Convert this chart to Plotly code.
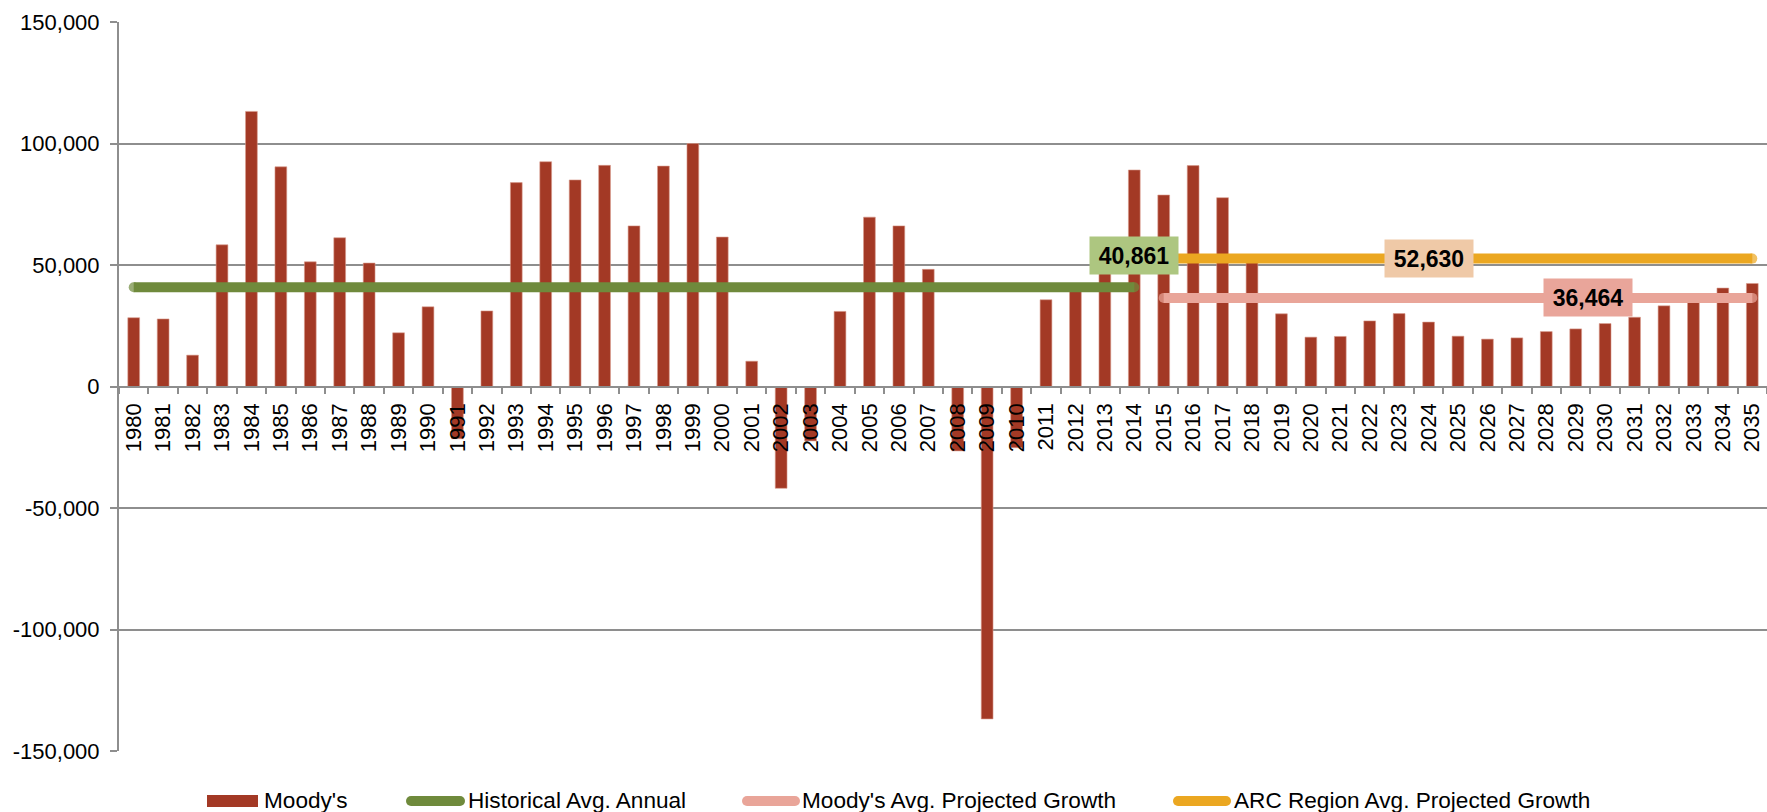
import plotly.graph_objects as go

# ---- data -------------------------------------------------------------
years = [str(y) for y in range(1980, 2036)]

moodys = [
    28300, 27800, 12900, 58300, 113200, 90400, 51300, 61200, 50800, 22100,   # 1980-1989
    32800, -21500, 31100, 83900, 92500, 85000, 91000, 66100, 90700, 100000,  # 1990-1999
    61500, 10400, -41900, -22400, 30900, 69700, 66100, 48200, -26500, -136800,  # 2000-2009
    -25200, 35700, 42000, 60500, 89100, 78800, 90900, 77700, 51000, 29900,   # 2010-2019
    20300, 20600, 27000, 30000, 26500, 20700, 19500, 20000, 22600, 23700,    # 2020-2029
    25900, 28500, 33200, 36000, 40500, 42400,                                # 2030-2035
]

hist_years = years[:years.index("2014") + 1]
proj_years = years[years.index("2015"):]

hist_avg = 40861          # Historical Avg. Annual (1980-2014)
moodys_proj_avg = 36464   # Moody's Avg. Projected Growth (2015-2035)
arc_proj_avg = 52630      # ARC Region Avg. Projected Growth (2015-2035)

y_tickvals = [150000, 100000, 50000, 0, -50000, -100000, -150000]
y_ticktext = ["150,000", "100,000", "50,000", "0", "-50,000", "-100,000", "-150,000"]

series_names = ["Moody's", "Historical Avg. Annual",
                "Moody's Avg. Projected Growth", "ARC Region Avg. Projected Growth"]

# ---- styling ----------------------------------------------------------
FONT = "Liberation Sans, Arial, sans-serif"
BAR = "#a33925"
GREEN = "#6f8a3c"
PINK = "#e9a599"
ORANGE = "#eba721"
GRID = "#8e8e8e"

W, H = 1767, 812
ML, MR, MT, MB = 119, 0, 22, 61
PW, PH = W - ML - MR, H - MT - MB


def px_x(x):
    return (x - ML) / PW


def px_y(y):
    return (H - MB - y) / PH


def flat_line(xs, value, color, name):
    n = len(xs)
    sizes = [10] + [0] * (n - 2) + [10]
    return go.Scatter(
        x=xs, y=[value] * n, mode="lines+markers", name=name,
        line=dict(color=color, width=10),
        marker=dict(color=color, size=sizes, line=dict(width=0)),
        showlegend=False, hoverinfo="skip",
    )


fig = go.Figure()
fig.add_trace(go.Bar(x=years, y=moodys, name=series_names[0], marker_color=BAR,
                     marker_line=dict(width=0.6, color="#d99a8c"), showlegend=False))
fig.add_trace(flat_line(hist_years, hist_avg, GREEN, series_names[1]))
fig.add_trace(flat_line(proj_years, moodys_proj_avg, PINK, series_names[2]))
fig.add_trace(flat_line(proj_years, arc_proj_avg, ORANGE, series_names[3]))

# value labels for the average lines (x given as category index)
label_font = dict(family=FONT, size=23, color="#000000")
label_specs = [
    (years.index("2014"), 0, hist_avg, 32, "#adc680"),
    (years.index("2024"), 0, arc_proj_avg, 0, "#efc9a7"),
    (years.index("2029"), 12, moodys_proj_avg, 0, "#e9a59a"),
]
for xi, dx, val, dy, bg in label_specs:
    fig.add_annotation(xref="x", yref="y", x=xi, y=val, xshift=dx, yshift=dy,
                       text=f"<b>{val:,}</b>", showarrow=False, bgcolor=bg,
                       width=86, height=35, xanchor="center", yanchor="middle",
                       font=label_font)

# legend drawn along the bottom
shapes = []
legend_y = 800
legend_font = dict(family=FONT, size=22.6, color="#000000")
# bar swatch
shapes.append(dict(type="rect", xref="paper", yref="paper",
                   x0=px_x(207), x1=px_x(258), y0=px_y(795), y1=px_y(807),
                   fillcolor=BAR, line=dict(width=0)))
fig.add_annotation(xref="paper", yref="paper", x=px_x(262), y=px_y(legend_y),
                   text=series_names[0], showarrow=False, xanchor="left",
                   yanchor="middle", font=legend_font)
for (x0, x1, tx), color, name in zip(
        [(406, 465, 466), (742, 800, 800), (1173, 1231, 1232)],
        [GREEN, PINK, ORANGE], series_names[1:]):
    shapes.append(dict(type="line", xref="paper", yref="paper",
                       x0=px_x(x0 + 5), x1=px_x(x1 - 5), y0=px_y(801), y1=px_y(801),
                       line=dict(color=color, width=10)))
    for cx in (x0 + 5, x1 - 5):
        shapes.append(dict(type="circle", xref="paper", yref="paper",
                           x0=px_x(cx - 5), x1=px_x(cx + 5),
                           y0=px_y(806), y1=px_y(796),
                           fillcolor=color, line=dict(width=0)))
    fig.add_annotation(xref="paper", yref="paper", x=px_x(tx), y=px_y(legend_y),
                       text=name, showarrow=False, xanchor="left",
                       yanchor="middle", font=legend_font)

fig.update_layout(
    width=W, height=H,
    margin=dict(l=ML, r=MR, t=MT, b=MB, pad=0),
    paper_bgcolor="white", plot_bgcolor="white",
    bargap=0.6,
    font=dict(family=FONT, size=22, color="#000000"),
    shapes=shapes,
    showlegend=False,
)
fig.update_xaxes(
    type="category", categoryorder="array", categoryarray=years,
    range=[-0.5, len(years) - 0.5],
    anchor="free", position=0.5,
    showline=True, linecolor=GRID, linewidth=2,
    ticks="outside", tickson="boundaries", ticklen=6, tickcolor=GRID, tickwidth=1.5,
    tickangle=-90, tickfont=dict(family=FONT, size=22, color="#000000"),
    ticklabelstandoff=7,
    showgrid=False, zeroline=False,
)
fig.update_yaxes(
    range=[-150000, 150000],
    tickvals=y_tickvals, ticktext=y_ticktext,
    showgrid=True, gridcolor=GRID, gridwidth=2,
    showline=True, linecolor=GRID, linewidth=2,
    ticks="outside", ticklen=7, tickcolor=GRID, tickwidth=1.5,
    tickfont=dict(family=FONT, size=22, color="#000000"),
    ticklabelstandoff=6,
    zeroline=False,
)

fig.write_html("out.html")
